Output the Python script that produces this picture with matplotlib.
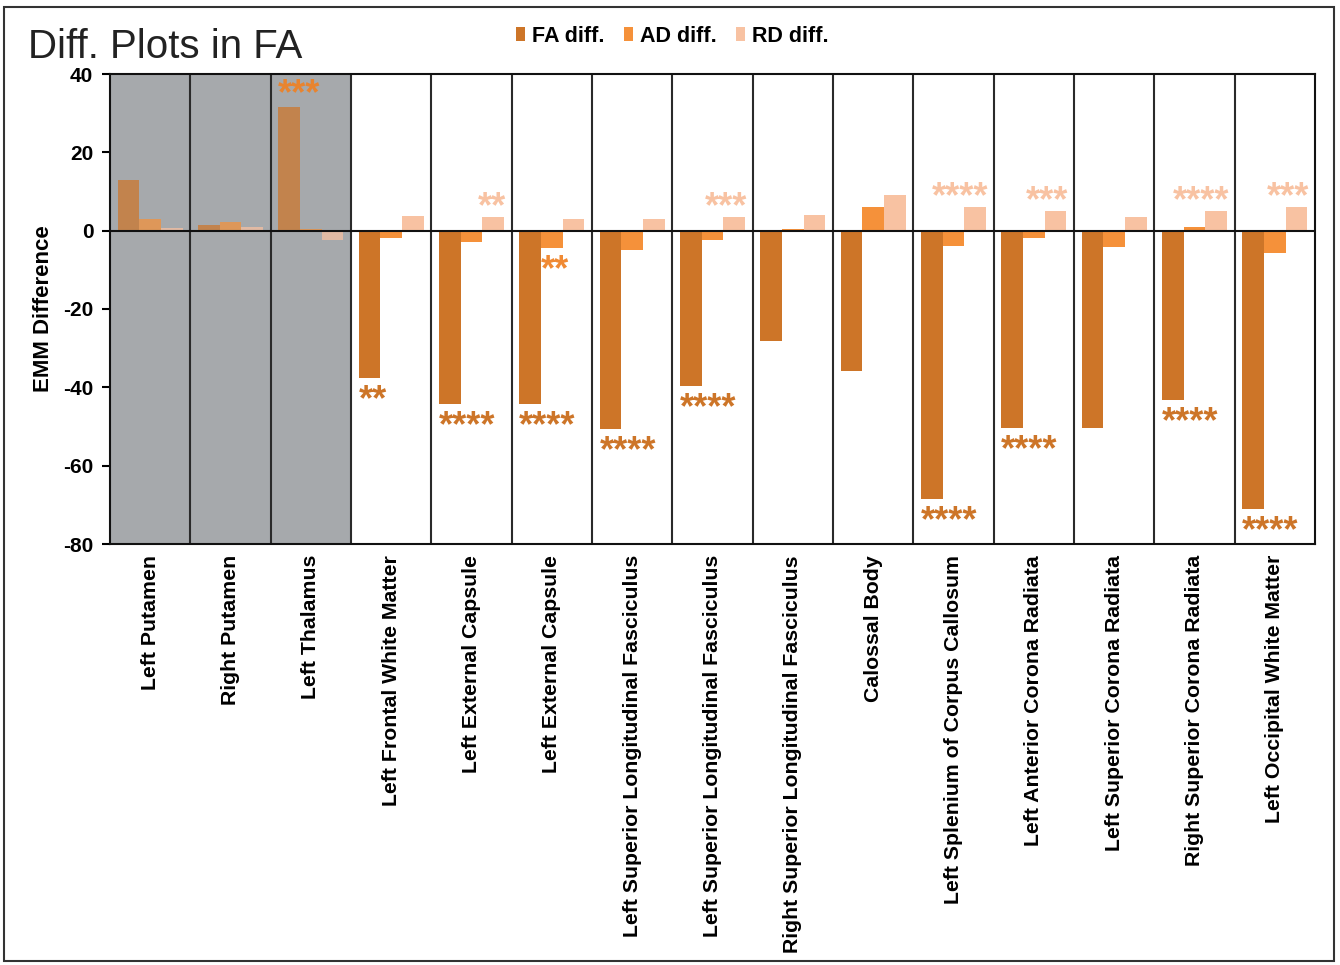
import numpy as np
import matplotlib
matplotlib.use("Agg")
import matplotlib.pyplot as plt
from matplotlib.patches import Patch, Rectangle

plt.rcParams['font.family'] = ['Liberation Sans', 'DejaVu Sans']

# Regions of interest
regions = [
    "Left Putamen", "Right Putamen", "Left Thalamus", "Left Frontal White Matter",
    "Left External Capsule", "Left External Capsule",
    "Left Superior Longitudinal Fasciculus", "Left Superior Longitudinal Fasciculus",
    "Right Superior Longitudinal Fasciculus", "Calossal Body",
    "Left Splenium of Corpus Callosum", "Left Anterior Corona Radiata",
    "Left Superior Corona Radiata", "Right Superior Corona Radiata",
    "Left Occipital White Matter",
]

# Estimated marginal mean differences
fa_diff = [13.0, 1.4, 31.5, -37.7, -44.2, -44.2, -50.6, -39.6, -28.2, -35.8,
           -68.6, -50.3, -50.3, -43.2, -71.1]
ad_diff = [2.9, 2.1, 0.3, -1.9, -3.0, -4.5, -5.0, -2.3, 0.3, 6.0,
           -3.9, -1.9, -4.2, 1.0, -5.6]
rd_diff = [0.6, 1.0, -2.4, 3.7, 3.5, 3.0, 3.0, 3.5, 4.0, 9.1,
           6.1, 5.0, 3.6, 5.0, 6.1]

# Significance markers
fa_sig = ["", "", "***", "**", "****", "****", "****", "****", "", "",
          "****", "****", "", "****", "****"]
ad_sig = ["", "", "", "", "", "**", "", "", "", "",
          "", "", "", "", ""]
rd_sig = ["", "", "", "", "**", "", "", "***", "", "",
          "****", "***", "", "****", "***"]

series_names = ["FA diff.", "AD diff.", "RD diff."]
series_colors = ["#CD7528", "#F5913A", "#F8C2A2"]
star_colors = ["#CD7528", "#F08A34", "#F8C2A2"]

# Number of leading regions shown on a shaded background
n_shaded = 3

W, H = 1340, 965
fig = plt.figure(figsize=(W / 100, H / 100), dpi=100)
ax = fig.add_axes([110 / W, 1 - 544 / H, 1205 / W, 470 / H])

x = np.arange(len(regions))
bw = 0.27
series = [fa_diff, ad_diff, rd_diff]
for i, (vals, col) in enumerate(zip(series, series_colors)):
    bc = ax.bar(x + (i - 1) * bw, vals, width=bw, color=col, zorder=3,
                linewidth=0)
    for j, p in enumerate(bc.patches):
        if j < n_shaded:
            p.set_alpha(0.72)

ax.set_xlim(-0.5, len(regions) - 0.5)
ax.set_ylim(-80, 40)

# shaded background block
ax.axvspan(-0.5, n_shaded - 0.5, color="#A6A9AC", zorder=0, linewidth=0)

# category separators and zero line
for b in np.arange(0.5, len(regions) - 0.5, 1.0):
    ax.axvline(b, color="#2a2a2a", lw=1.5, zorder=4)
ax.axhline(0, color="#111111", lw=1.5, zorder=4)

# significance stars (baseline offsets in pixels)
star_fs = 26
below_off = -32
above_off_rd = 0
above_off = 3
for i, (vals, sigs) in enumerate(zip(series, [fa_sig, ad_sig, rd_sig])):
    for j, (v, s) in enumerate(zip(vals, sigs)):
        if not s:
            continue
        col = star_colors[i]
        if i == 0 and j < n_shaded:
            col = "#E8842F"
        left = x[j] + (i - 1) * bw - bw / 2
        right = x[j] + (i - 1) * bw + bw / 2
        if v < 0:
            ax.annotate(s, xy=(left, v), xytext=(0, below_off),
                        textcoords="offset pixels", ha="left", va="baseline",
                        fontsize=star_fs, fontweight="bold", color=col,
                        zorder=5, annotation_clip=False)
        elif i == 2:
            ax.annotate(s, xy=(right, v), xytext=(2, above_off_rd),
                        textcoords="offset pixels", ha="right", va="baseline",
                        fontsize=star_fs, fontweight="bold", color=col,
                        zorder=5, annotation_clip=False)
        else:
            ax.annotate(s, xy=(left, v), xytext=(0, above_off),
                        textcoords="offset pixels", ha="left", va="baseline",
                        fontsize=star_fs, fontweight="bold", color=col,
                        zorder=5, annotation_clip=False)

# axes styling
for sp in ax.spines.values():
    sp.set_linewidth(1.5)
    sp.set_color("#111111")
    sp.set_zorder(6)
ax.set_yticks([-80, -60, -40, -20, 0, 20, 40])
ax.set_yticklabels(["-80", "-60", "-40", "-20", "0", "20", "40"],
                   fontsize=15, fontweight="bold")
ax.tick_params(axis="y", direction="out", length=6, width=1.5, pad=6)
ax.set_xticks(x)
ax.set_xticklabels(regions, rotation=90, ha="center", va="top",
                   fontsize=15.3, fontweight="bold")
ax.tick_params(axis="x", length=0, pad=8)
ax.set_ylabel("EMM Difference", fontsize=16, fontweight="bold", va="center")
ax.yaxis.set_label_coords((44 - 110) / 1205, 0.5)

# title and legend
fig.text(28 / W, 1 - 58 / H, "Diff. Plots in FA", fontsize=29,
         ha="left", va="baseline", color="#222222")
handles = [Patch(facecolor=c, edgecolor="none") for c in series_colors]
fig.legend(handles, series_names, loc="center left",
           bbox_to_anchor=(516 / W, 1 - 36 / H), ncol=3, frameon=False,
           borderpad=0, borderaxespad=0, handlelength=0.4, handleheight=0.6,
           handletextpad=0.35, columnspacing=0.9,
           prop={"weight": "bold", "size": 15.5})

# outer frame
fig.patches.append(Rectangle((4 / W, 1 - 961 / H), 1330 / W, 954 / H,
                             transform=fig.transFigure, fill=False,
                             edgecolor="#333333", linewidth=1.5))

fig.savefig("out.png", dpi=100, facecolor="white")
